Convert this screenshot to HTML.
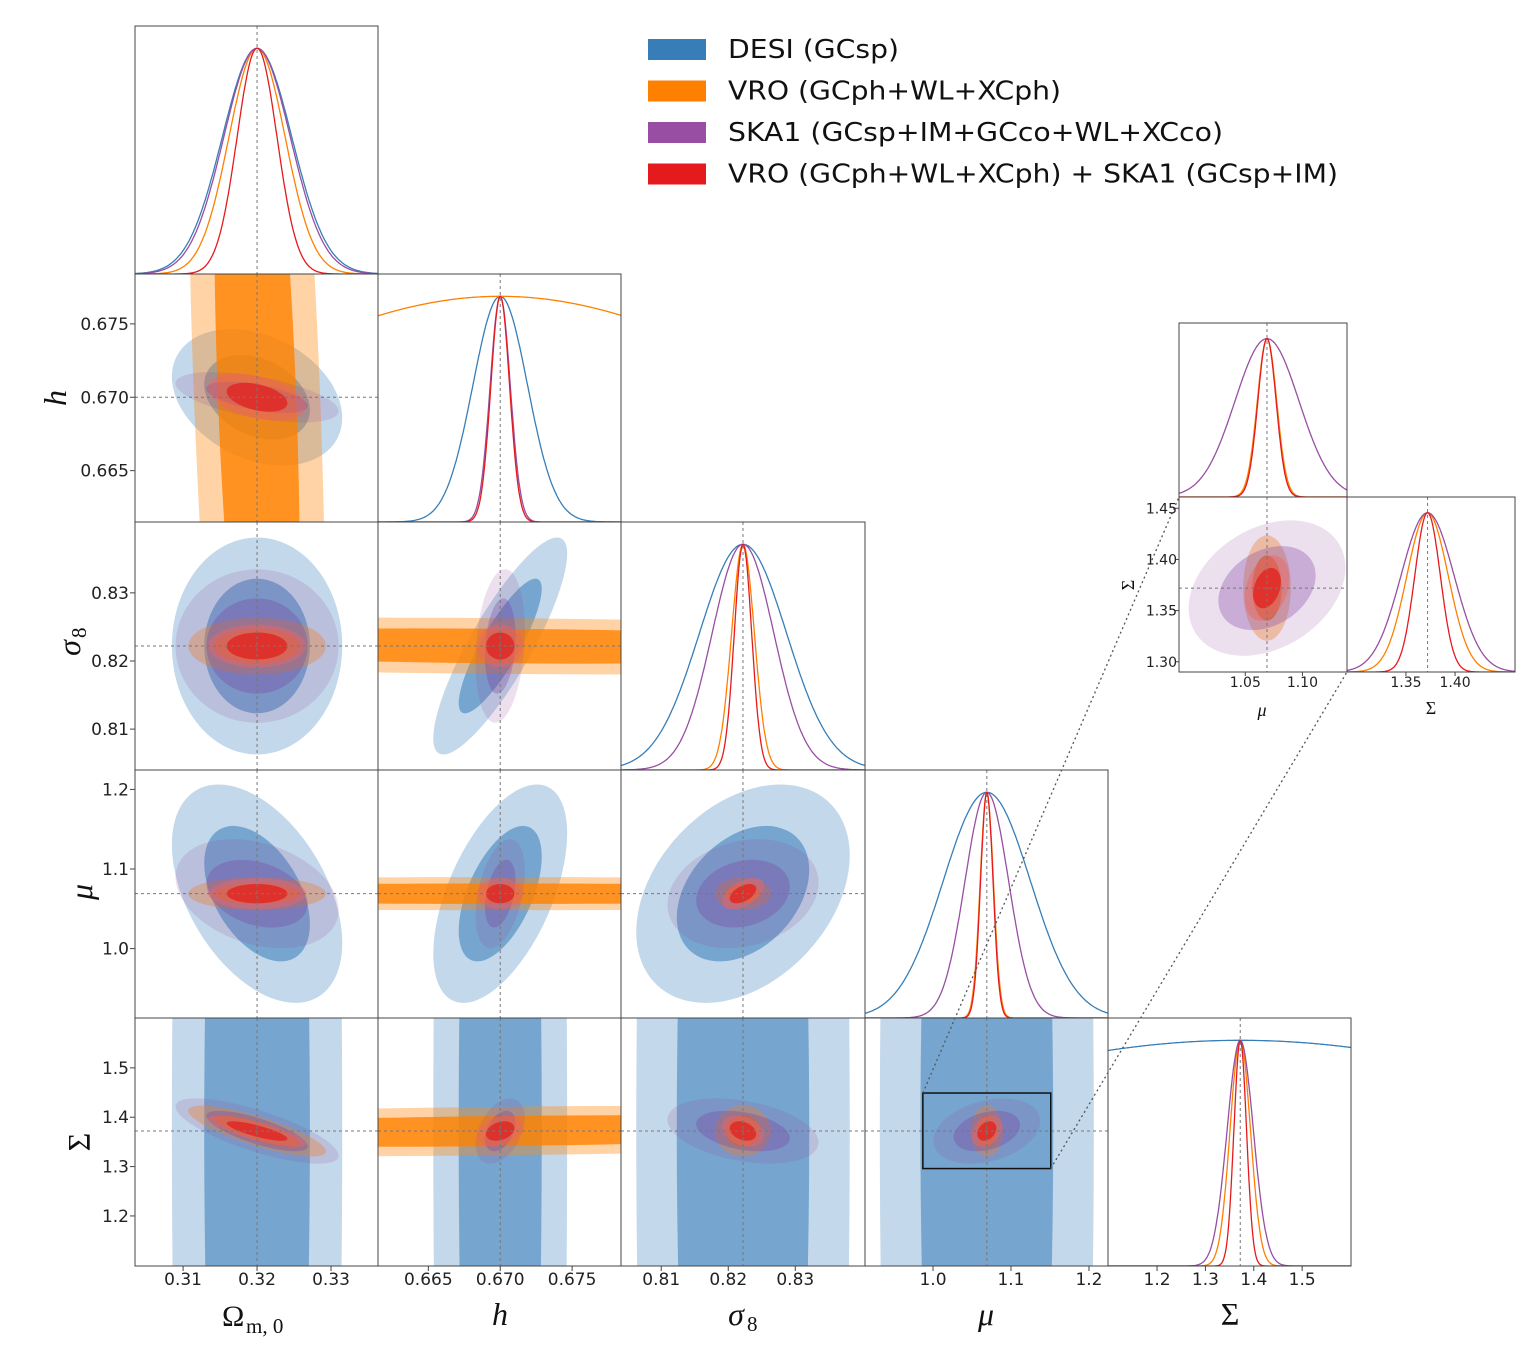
<!DOCTYPE html>
<html><head><meta charset="utf-8"><style>
body{margin:0;background:#fff;overflow:hidden}
svg{display:block}
text{font-family:"DejaVu Sans","Liberation Sans",sans-serif}
.lab{font-family:"Liberation Serif",serif}
</style></head><body>
<svg id="fig" width="1538" height="1350" viewBox="0 0 1538 1350" xmlns="http://www.w3.org/2000/svg"></svg>
<script>
// ---- data ----
const paramNames = ['Om','h','s8','mu','Sigma'];
const fiducial = [0.32, 0.67, 0.8222, 1.069, 1.372];
const axisLo = [0.3035, 0.6615, 0.804, 0.9128, 1.0986];
const axisHi = [0.33635, 0.6784, 0.8404, 1.2244, 1.601];
const surveyNames = ['DESI','VRO','SKA1','VRO+SKA1'];
const sigDESI = [0.0047, 0.0019, 0.0065, 0.056, 0.9];
const sigVRO  = [0.0038, 0.02,   0.0017, 0.0085, 0.021];
const sigSKA  = [0.0045, 0.0007, 0.0046, 0.028, 0.027];
const sigComb = [0.0027, 0.00065,0.0013, 0.008, 0.013];
// correlations order: 01,02,03,04,12,13,14,23,24,34
const rhoDESI = [-0.3, 0, -0.45, 0, 0.85, 0.55, 0, 0.35, 0, 0];
const rhoVRO  = [-0.4, 0, 0, -0.8, -0.2, 0, 0.3, 0, 0, 0];
const rhoSKA  = [-0.55, 0, -0.3, -0.75, 0.2, 0.4, 0.4, 0.2, -0.35, 0.3];
const rhoComb = [-0.4, 0, 0, -0.8, 0, 0, 0.3, 0.5, -0.3, 0.3];
const ticksX = [[0.31,0.32,0.33],[0.665,0.670,0.675],[0.81,0.82,0.83],[1.0,1.1,1.2],[1.2,1.3,1.4,1.5]];
const tickLabX = [['0.31','0.32','0.33'],['0.665','0.670','0.675'],['0.81','0.82','0.83'],['1.0','1.1','1.2'],['1.2','1.3','1.4','1.5']];
const insetMuTicks = [1.05, 1.10];
const insetMuLabels = ['1.05','1.10'];
const insetSigTicks = [1.30, 1.35, 1.40, 1.45];
const insetSigLabels = ['1.30','1.35','1.40','1.45'];
const insetSigXTicks = [1.35, 1.40];
const insetSigXLabels = ['1.35','1.40'];
const insetLo = [0.992, 1.290];
const insetHi = [1.139, 1.461];
const zoomLo = [0.987, 1.296];
const zoomHi = [1.151, 1.449];

// ---- styling ----
const NS='http://www.w3.org/2000/svg';
const svg=document.getElementById('fig');
const colX=[135,378,621,865,1108,1351];
const rowY=[26,274,522,770,1018,1266];
const lineCol=['#377eb8','#ff7f00','#984ea3','#e41a1c'];
const fillOuter=['rgba(55,126,184,0.3)','rgba(255,140,20,0.38)','rgba(152,78,163,0.18)','rgba(240,100,100,0.45)'];
const fillInner=['rgba(55,126,184,0.55)','rgba(255,130,0,0.8)','rgba(120,60,160,0.3)','rgba(225,40,35,0.85)'];
const sigs=[sigDESI,sigVRO,sigSKA,sigComb];
const rhos=[rhoDESI,rhoVRO,rhoSKA,rhoComb];
function rhoIdx(a,b){const i=Math.min(a,b),j=Math.max(a,b);const m={'01':0,'02':1,'03':2,'04':3,'12':4,'13':5,'14':6,'23':7,'24':8,'34':9};return m[''+i+j];}
function mk(tag,attrs,parent){const e=document.createElementNS(NS,tag);for(const k in attrs)e.setAttribute(k,attrs[k]);(parent||svg).appendChild(e);return e;}
let clipN=0;
function clipFor(b){const id='c'+(clipN++);const cp=mk('clipPath',{id:id});mk('rect',{x:b.x0,y:b.y0,width:b.x1-b.x0,height:b.y1-b.y0},cp);return id;}
function panel2D(b,xl,xh,yl,yh,pj,pi,survs,name){
  const g=mk('g',{'clip-path':'url(#'+clipFor(b)+')'});
  
  
  const ax=(b.x1-b.x0)/(xh-xl), ay=-(b.y1-b.y0)/(yh-yl);
  const cx=b.x0+(fiducial[pj]-xl)*(b.x1-b.x0)/(xh-xl), cy=b.y1-(fiducial[pi]-yl)*(b.y1-b.y0)/(yh-yl);
  survs.forEach(s=>{
    const sx=sigs[s][pj], sy=sigs[s][pi], r=rhos[s][rhoIdx(pj,pi)];
    const cxx=(ax*sx)**2, cyy=(ay*sy)**2, cxy=r*ax*ay*sx*sy;
    const m=(cxx+cyy)/2, d=Math.sqrt(((cxx-cyy)/2)**2+cxy*cxy);
    const l1=m+d, l2=Math.max(m-d,1e-9);
    const ang=0.5*Math.atan2(2*cxy,cxx-cyy)*180/Math.PI;
    [[2.45,fillOuter[s]],[1.52,fillInner[s]]].forEach(([k,f],ii)=>{
      const e=mk('ellipse',{cx:cx,cy:cy,rx:k*Math.sqrt(l1),ry:k*Math.sqrt(l2),fill:f,transform:'rotate('+ang+' '+cx+' '+cy+')'},g);
      
      
    });
  });
  const dl={stroke:'#777','stroke-width':1,'stroke-dasharray':'3,3'};
  mk('line',Object.assign({x1:cx,x2:cx,y1:b.y0,y2:b.y1},dl),g);
  mk('line',Object.assign({x1:b.x0,x2:b.x1,y1:cy,y2:cy},dl),g);
  mk('rect',{x:b.x0,y:b.y0,width:b.x1-b.x0,height:b.y1-b.y0,fill:'none',stroke:'#444','stroke-width':1});
}
function panel1D(b,xl,xh,p,survs,name){
  const g=mk('g',{'clip-path':'url(#'+clipFor(b)+')'});
  
  
  const H=b.y1-b.y0, W=b.x1-b.x0;
  const cx=b.x0+(fiducial[p]-xl)*W/(xh-xl);
  survs.forEach(s=>{
    let d='';
    for(let i=0;i<=300;i++){const x=b.x0+W*i/300;const v=xl+(xh-xl)*i/300;const y=b.y1-0.91*H*Math.exp(-0.5*((v-fiducial[p])/sigs[s][p])**2);d+=(i?'L':'M')+x.toFixed(1)+','+y.toFixed(1);}
    const pth=mk('path',{d:d,fill:'none',stroke:lineCol[s],'stroke-width':1.3},g);
    
    
  });
  mk('line',{x1:cx,x2:cx,y1:b.y0,y2:b.y1,stroke:'#777','stroke-width':1,'stroke-dasharray':'3,3'},g);
  mk('rect',{x:b.x0,y:b.y0,width:W,height:H,fill:'none',stroke:'#444','stroke-width':1});
}
function txt(x,y,s,attrs,name){const t=mk('text',Object.assign({x:x,y:y},attrs||{}));t.textContent=s;return t;}

// main grid
const all=[0,1,2,3];
for(let i=0;i<5;i++){
  for(let j=0;j<=i;j++){
    const b={x0:colX[j],x1:colX[j+1],y0:rowY[i],y1:rowY[i+1]};
    if(i===j) panel1D(b,axisLo[i],axisHi[i],i,all,'posterior-'+paramNames[i]);
    else panel2D(b,axisLo[j],axisHi[j],axisLo[i],axisHi[i],j,i,all,'panel-'+paramNames[j]+'-'+paramNames[i]);
  }
}
// x ticks
for(let j=0;j<5;j++){
  ticksX[j].forEach((v,k)=>{
    const x=colX[j]+(v-axisLo[j])*(colX[j+1]-colX[j])/(axisHi[j]-axisLo[j]);
    mk('line',{x1:x,x2:x,y1:1266,y2:1271,stroke:'#444'});
    txt(x,1285,tickLabX[j][k],{'font-size':17,'text-anchor':'middle',fill:'#222'},'x-tick-'+paramNames[j]);
  });
}
// y ticks
for(let i=1;i<5;i++){
  ticksX[i].forEach((v,k)=>{
    const y=rowY[i+1]-(v-axisLo[i])*(rowY[i+1]-rowY[i])/(axisHi[i]-axisLo[i]);
    if(y<rowY[i]||y>rowY[i+1])return;
    mk('line',{x1:130,x2:135,y1:y,y2:y,stroke:'#444'});
    txt(129,y+6,tickLabX[i][k],{'font-size':17,'text-anchor':'end',fill:'#222'},'y-tick-'+paramNames[i]);
  });
}
// axis labels
txt(222,1326,'Ω',{class:'lab','font-size':30,fill:'#111'},'x-axis-title-om');
txt(246,1333,'m, 0',{class:'lab','font-size':21,fill:'#111'},'x-axis-title-om-sub');
txt(500,1325,'h',{class:'lab','font-size':32,'font-style':'italic','text-anchor':'middle',fill:'#111'},'x-axis-title-h');
txt(736,1325,'σ',{class:'lab','font-size':32,'font-style':'italic','text-anchor':'middle',fill:'#111'},'x-axis-title-sigma8');
txt(747,1331,'8',{class:'lab','font-size':21,fill:'#111'},'x-axis-title-sigma8-sub');
txt(986,1325,'μ',{class:'lab','font-size':32,'font-style':'italic','text-anchor':'middle',fill:'#111'},'x-axis-title-mu');
txt(1230,1325,'Σ',{class:'lab','font-size':32,'text-anchor':'middle',fill:'#111'},'x-axis-title-Sigma');
function ylab(x,y,s,name,sub){txt(0,0,s,{class:'lab','font-size':32,'font-style':s==='Σ'?'normal':'italic','text-anchor':'middle',fill:'#111',transform:'translate('+x+','+y+') rotate(-90)'},name);if(sub){txt(0,0,sub,{class:'lab','font-size':21,fill:'#111',transform:'translate('+(x+6)+','+(y-10)+') rotate(-90)'},name+'-sub');}}
ylab(66,398,'h','y-axis-title-h');
ylab(80,648,'σ','y-axis-title-sigma8','8');
ylab(92,892,'μ','y-axis-title-mu');
ylab(90,1142,'Σ','y-axis-title-Sigma');

// zoom rectangle in mu-Sigma panel
function mapX(j,v){return colX[j]+(v-axisLo[j])*(colX[j+1]-colX[j])/(axisHi[j]-axisLo[j]);}
function mapY(i,v){return rowY[i+1]-(v-axisLo[i])*(rowY[i+1]-rowY[i])/(axisHi[i]-axisLo[i]);}
const rx0=mapX(3,zoomLo[0]), rx1=mapX(3,zoomHi[0]), ry0=mapY(4,zoomHi[1]), ry1=mapY(4,zoomLo[1]);
const zr=mk('rect',{x:rx0,y:ry0,width:rx1-rx0,height:ry1-ry0,fill:'none',stroke:'#111','stroke-width':1.5});



// inset
const iMu={x0:1179,x1:1347,y0:323,y1:497};
const i2D={x0:1179,x1:1347,y0:497,y1:672};
const iSg={x0:1347,x1:1515,y0:497,y1:672};
mk('line',{x1:rx0,y1:ry0,x2:1179,y2:497,stroke:'#555','stroke-width':1.3,'stroke-dasharray':'2,3'});
mk('line',{x1:rx1,y1:ry1,x2:1347,y2:672,stroke:'#555','stroke-width':1.3,'stroke-dasharray':'2,3'});
const ins=[1,2,3];
panel1D(iMu,insetLo[0],insetHi[0],3,ins,'inset-posterior-mu');
panel2D(i2D,insetLo[0],insetHi[0],insetLo[1],insetHi[1],3,4,ins,'inset-panel-mu-Sigma');
panel1D(iSg,insetLo[1],insetHi[1],4,ins,'inset-posterior-Sigma');
insetMuTicks.forEach((v,k)=>{const x=i2D.x0+(v-insetLo[0])*(i2D.x1-i2D.x0)/(insetHi[0]-insetLo[0]);mk('line',{x1:x,x2:x,y1:672,y2:676,stroke:'#444'});txt(x,687,insetMuLabels[k],{'font-size':14,'text-anchor':'middle',fill:'#222'},'inset-x-tick-mu');});
insetSigTicks.forEach((v,k)=>{const y=i2D.y1-(v-insetLo[1])*(i2D.y1-i2D.y0)/(insetHi[1]-insetLo[1]);mk('line',{x1:1175,x2:1179,y1:y,y2:y,stroke:'#444'});txt(1177,y+5,insetSigLabels[k],{'font-size':14,'text-anchor':'end',fill:'#222'},'inset-y-tick-Sigma');});
insetSigXTicks.forEach((v,k)=>{const x=iSg.x0+(v-insetLo[1])*(iSg.x1-iSg.x0)/(insetHi[1]-insetLo[1]);mk('line',{x1:x,x2:x,y1:672,y2:676,stroke:'#444'});txt(x,687,insetSigXLabels[k],{'font-size':14,'text-anchor':'middle',fill:'#222'},'inset-x-tick-Sigma');});
txt(1262,716,'μ',{class:'lab','font-size':18,'font-style':'italic','text-anchor':'middle',fill:'#111'},'inset-x-title-mu');
txt(1431,714,'Σ',{class:'lab','font-size':18,'text-anchor':'middle',fill:'#111'},'inset-x-title-Sigma');
txt(0,0,'Σ',{class:'lab','font-size':18,'text-anchor':'middle',fill:'#111',transform:'translate(1134,585) rotate(-90)'},'inset-y-title-Sigma');

// legend
const legText=['DESI (GCsp)','VRO (GCph+WL+XCph)','SKA1 (GCsp+IM+GCco+WL+XCco)','VRO (GCph+WL+XCph) + SKA1 (GCsp+IM)'];
const legCol=['#377eb8','#ff7f00','#984ea3','#e41a1c'];
legText.forEach((s,k)=>{
  const y=49+k*41.5;
  const r=mk('rect',{x:648,y:y-10,width:58,height:21,fill:legCol[k]});
  
  
  const t=txt(728,y+9,s,{'font-size':26,fill:'#111'},'legend-entry-'+k);
  t.setAttribute('textLength',[171,333,495,610][k]);
  t.setAttribute('lengthAdjust','spacingAndGlyphs');
});
</script>
</body></html>
